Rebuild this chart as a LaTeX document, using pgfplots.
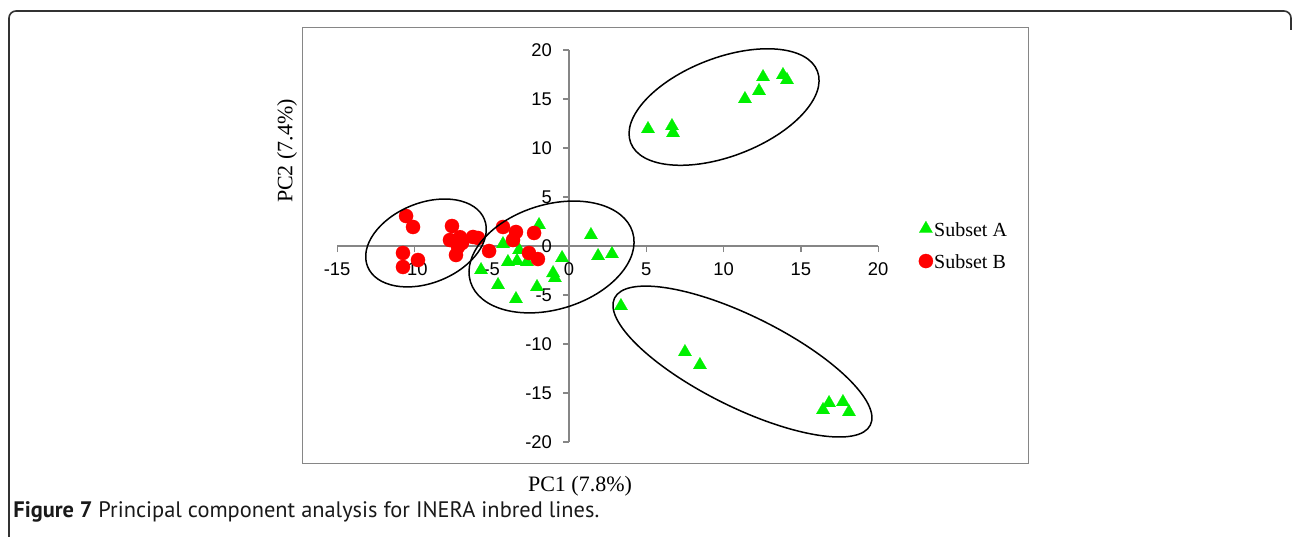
\documentclass[border=0pt]{standalone}
\usepackage{fontspec}
\setmainfont{Liberation Serif}
\newfontfamily\arialfont{Liberation Sans}
\newfontfamily\capfont{PT Sans}
\usepackage{pgfplots}
\pgfplotsset{compat=1.18}
\definecolor{ptgreen}{RGB}{0,240,0}
\definecolor{ptred}{RGB}{255,0,0}
\definecolor{axgray}{RGB}{134,134,134}

\pgfplotstableread{
x y
-1.94 2.14
1.42 1.12
1.88 -1.02
2.78 -0.82
-4.27 0.20
-3.23 -0.41
-3.95 -1.63
-3.36 -1.53
-2.72 -1.63
-5.69 -2.45
-4.59 -3.98
-3.43 -5.41
-2.07 -4.18
-1.03 -2.76
-0.91 -3.27
-0.45 -1.22
5.11 11.94
6.66 12.24
6.73 11.53
11.38 15.00
12.29 15.82
12.55 17.24
13.84 17.45
14.10 16.94
3.36 -6.12
7.50 -10.82
8.47 -12.14
16.43 -16.73
16.82 -16.02
17.72 -15.92
18.11 -16.94
}\subsetA

\pgfplotstableread{
x y
-10.54 3.06
-10.09 1.94
-10.74 -0.71
-10.74 -2.14
-9.77 -1.43
-7.57 2.04
-7.70 0.61
-7.31 -0.92
-6.92 0.31
-7.18 -0.10
-7.05 0.90
-6.21 0.92
-5.89 0.82
-5.17 -0.51
-4.27 1.94
-3.43 1.43
-3.62 0.61
-2.26 1.33
-2.59 -0.71
-2.01 -1.33
}\subsetB

\begin{document}
\begin{tikzpicture}
\begin{axis}[
    x=7.73pt, y=4.9pt
  , axis lines=middle
  , axis line style={-, axgray, line width=0.6pt}
  , xmin=-15, xmax=20, ymin=-20, ymax=20
  , xtick={-15,-10,...,20}, ytick={-20,-15,...,20}
  , minor tick num=0
  , hide obscured x ticks=false, hide obscured y ticks=false
  , tick align=outside, major tick length=3pt
  , tick style={axgray, line width=0.6pt}
  , ticklabel style={font=\arialfont\fontsize{9.2}{10}\selectfont}
  , /pgf/number format/assume math mode=true
  , xticklabel style={yshift=-2pt}
  , yticklabel style={xshift=-2pt}
  , clip=false
  , xlabel={PC1 (7.8\%)}, ylabel={PC2 (7.4\%)}
  , every axis x label/.style={at={(axis cs:0.71,-24.5)}, anchor=center, font=\fontsize{11}{13}\selectfont}
  , every axis y label/.style={at={(axis cs:-18.24,9.69)}, anchor=center, rotate=90, font=\fontsize{11}{13}\selectfont}
  , legend style={at={(axis cs:22.6,-0.1)}, anchor=west, draw=none, fill=none,
      inner sep=0pt, row sep=6.5pt, font=\fontsize{10}{12}\selectfont,
      nodes={inner sep=0.6pt}}
  , legend cell align=left
  , legend image code/.code={\draw[#1] plot coordinates {(0pt,1.1pt)};}
  ]
\addplot[only marks, mark=triangle*, mark size=3.85pt,
  draw=ptgreen, fill=ptgreen, mark options={line width=0.1pt}] table {\subsetA};
\addplot[only marks, mark=*, mark size=3.55pt,
  draw=ptred, fill=ptred, mark options={line width=0.1pt}] table {\subsetB};
\legend{Subset A, Subset B}
\coordinate (O) at (axis cs:0,0);
\coordinate (e1) at (axis cs:10.03,14.18);
\coordinate (e2) at (axis cs:-9.25,0.31);
\coordinate (e3) at (axis cs:-1.13,-1.12);
\coordinate (e4) at (axis cs:11.22,-11.79);
\end{axis}

% cluster ellipses
\begin{scope}[black, line width=0.75pt]
\draw[rotate around={21:(e1)}] (e1) ellipse [x radius=50pt, y radius=24.6pt];
\draw[rotate around={22:(e2)}] (e2) ellipse [x radius=31.5pt, y radius=20pt];
\draw[rotate around={17:(e3)}] (e3) ellipse [x radius=42.4pt, y radius=26.2pt];
\draw[rotate around={-26.4:(e4)}] (e4) ellipse [x radius=71.4pt, y radius=22.75pt];
\end{scope}

% plot area frame and figure border
\begin{scope}[shift={(O)}]
\draw[axgray, line width=0.5pt] (-133.5pt,-108.5pt) rectangle (229.5pt,109pt);
\draw[black!80, line width=0.8pt, rounded corners=3.5pt]
  (-280pt,-150pt) -- (-280pt,117.5pt) -- (361pt,117.5pt) -- (361pt,108pt);
\node[anchor=base west, inner sep=0pt, text=black!90,
  font=\capfont\fontsize{11.2}{13}\selectfont] at (-278pt,-135.5pt)
  {\textbf{Figure 7} Principal component analysis for INERA inbred lines.};
\end{scope}

\pgfresetboundingbox
\path[use as bounding box] ([shift={(-284.5pt,-145pt)}]O) rectangle ([shift={(362pt,123pt)}]O);
\end{tikzpicture}
\end{document}
